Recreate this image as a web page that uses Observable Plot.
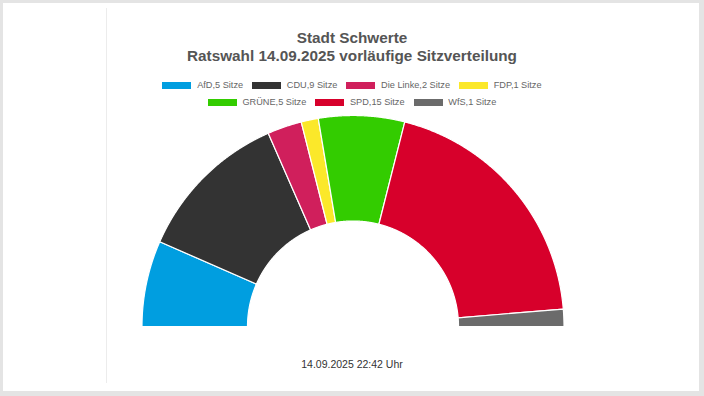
<!DOCTYPE html>
<html>
<head>
<meta charset="utf-8">
<script src="https://cdn.jsdelivr.net/npm/d3@7"></script>
<script src="https://cdn.jsdelivr.net/npm/@observablehq/plot@0.6"></script>
<style>
  html, body { margin: 0; padding: 0; background: #fff; }
  #frame { position: relative; width: 704px; height: 396px; overflow: hidden; font-family: "Liberation Sans", Arial, sans-serif; }
  #border { position: absolute; left: 0; top: 0; width: 704px; height: 396px; box-sizing: border-box;
            border-style: solid; border-color: #e4e4e4; border-width: 3px 5px 5px 3px; pointer-events: none; }
  #vline { position: absolute; left: 106px; top: 8px; width: 1px; height: 375px; background: #ececec; }
  .title { position: absolute; left: 0; width: 704px; text-align: center; font-weight: bold; font-size: 15.3px;
           line-height: 18px; color: #555; white-space: nowrap; }
  .legrow { position: absolute; left: 0; width: 704px; display: flex; justify-content: center; font-size: 9.2px;
            line-height: 12px; color: #666; white-space: nowrap; }
  .item { display: flex; align-items: flex-start; margin: 0 4.5px; }
  .sw { width: 29px; height: 7px; margin-top: 3px; margin-right: 5.7px; }
  #chart { position: absolute; left: 0; top: 110px; }
  #foot { position: absolute; left: 0; top: 358px; width: 704px; text-align: center; font-size: 10.5px; line-height: 13px; color: #333; }
</style>
</head>
<body>
<div id="frame">
  <div id="border"></div>
  <div id="vline"></div>
  <div class="title" style="top:29px">Stadt Schwerte</div>
  <div class="title" style="top:47px">Ratswahl 14.09.2025 vorläufige Sitzverteilung</div>
  <div class="legrow" id="leg1" style="top:79.3px"></div>
  <div class="legrow" id="leg2" style="top:95.7px"></div>
  <div id="chart"></div>
  <div id="foot">14.09.2025 22:42 Uhr</div>
</div>
<script>
const parties = ["AfD", "CDU", "Die Linke", "FDP", "GRÜNE", "SPD", "WfS"];
const seats = [5, 9, 2, 1, 5, 15, 1];
const colors = ["#009ee0", "#333333", "#d01f5c", "#fbe82a", "#33cc00", "#d7002b", "#6b6b6b"];
const legendLabels = parties.map((p, i) => `${p},${seats[i]} Sitze`);
const legendRows = [[0, 1, 2, 3], [4, 5, 6]];

// Legend
legendRows.forEach((row, r) => {
  const el = document.getElementById(r === 0 ? "leg1" : "leg2");
  row.forEach(i => {
    const item = document.createElement("div");
    item.className = "item";
    const sw = document.createElement("div");
    sw.className = "sw";
    sw.style.background = colors[i];
    const tx = document.createElement("span");
    tx.textContent = legendLabels[i];
    item.appendChild(sw);
    item.appendChild(tx);
    el.appendChild(item);
  });
});

// Semicircle slices as polygons in unit coordinates
const innerRatio = 0.5;
const total = d3.sum(seats);
let cum = 0;
const features = parties.map((p, i) => {
  const a0 = Math.PI - Math.PI * cum / total;
  cum += seats[i];
  const a1 = Math.PI - Math.PI * cum / total;
  const n = Math.max(2, Math.ceil(Math.abs(a0 - a1) / (Math.PI / 900)));
  const ring = [];
  for (let k = 0; k <= n; k++) {
    const a = a0 + (a1 - a0) * k / n;
    ring.push([Math.cos(a), Math.sin(a)]);
  }
  for (let k = n; k >= 0; k--) {
    const a = a0 + (a1 - a0) * k / n;
    ring.push([innerRatio * Math.cos(a), innerRatio * Math.sin(a)]);
  }
  ring.push(ring[0]);
  return {type: "Feature", properties: {party: p, seats: seats[i]}, geometry: {type: "Polygon", coordinates: [ring]}};
});
const collection = {type: "FeatureCollection", features};

const W = 704, H = 225;
const projection = d3.geoIdentity().reflectY(true).fitExtent([[141.5, 5], [563.5, 216]], {
  type: "Polygon",
  coordinates: [[[-1, 0], [1, 0], [1, 1], [-1, 1], [-1, 0]]]
});

const chart = Plot.plot({
  width: W,
  height: H,
  margin: 0,
  projection,
  color: {domain: parties, range: colors},
  marks: [
    Plot.geo(collection, {fill: d => d.properties.party, stroke: "white", strokeWidth: 1.2})
  ]
});
document.getElementById("chart").appendChild(chart);
</script>
</body>
</html>
